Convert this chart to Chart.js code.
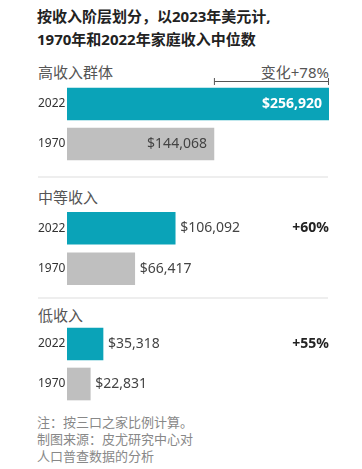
<!DOCTYPE html>
<html>
<head>
<meta charset="utf-8">
<script src="https://cdn.jsdelivr.net/npm/chart.js@4.4.1/dist/chart.umd.min.js"></script>
<style>
  body { margin: 0; background: #fff; font-family: "Noto Sans", "Noto Sans CJK SC", sans-serif; }
  #wrap { position: relative; width: 362px; height: 469px; overflow: hidden; }
  .t { position: absolute; white-space: nowrap; }
  .title { left: 37px; top: 5px; font-size: 15px; font-weight: bold; color: #222; line-height: 23px; }
  .grp { left: 38px; font-size: 15px; color: #555; line-height: 20px; }
  .chg { right: 33px; font-size: 15px; color: #555; line-height: 20px; }
  .sep { position: absolute; left: 38px; width: 290px; height: 2px; background: #eee; }
  .note { left: 37px; top: 414px; font-size: 13px; color: #888; line-height: 17px; }
  canvas { position: absolute; left: 0; }
</style>
</head>
<body>
<div id="wrap">
  <div class="t title">按收入阶层划分，以2023年美元计,<br>1970年和2022年家庭收入中位数</div>

  <div class="t grp" style="top:62px">高收入群体</div>
  <div class="t chg" style="top:62px">变化+78%</div>
  <div class="sep" style="top:176px"></div>

  <div class="t grp" style="top:187px">中等收入</div>
  <div class="sep" style="top:297px"></div>

  <div class="t grp" style="top:305px">低收入</div>

  <div class="t note">注：按三口之家比例计算。<br>制图来源：皮尤研究中心对<br>人口普查数据的分析</div>

  <canvas id="c0" style="top:74px" width="362" height="90"></canvas>
  <canvas id="c1" style="top:208px" width="362" height="81"></canvas>
  <canvas id="c2" style="top:324px" width="362" height="80"></canvas>
</div>

<script>
const groups = ['高收入群体', '中等收入', '低收入'];
const years = ['2022', '1970'];
const values2022 = [256920, 106092, 35318];
const values1970 = [144068, 66417, 22831];
const changes = ['+78%', '+60%', '+55%'];

const TEAL = '#0aa3b8';
const GRAY = '#bfbfbf';
const FONT = '"Noto Sans", "Noto Sans CJK SC", sans-serif';

function money(v) {
  return '$' + v.toLocaleString('en-US');
}

// year labels, value labels, change text and bracket
const labelsPlugin = {
  id: 'labels',
  afterDatasetsDraw(chart, args, opts) {
    const ctx = chart.ctx;
    const meta = chart.getDatasetMeta(0);
    const area = chart.chartArea;
    const vals = chart.data.datasets[0].data;
    ctx.save();
    ctx.textBaseline = 'middle';
    meta.data.forEach((bar, i) => {
      ctx.font = '12px ' + FONT;
      ctx.fillStyle = '#333';
      ctx.textAlign = 'left';
      ctx.fillText(years[i], 38, bar.y);

      const text = money(vals[i]);
      const inside = (bar.x - bar.base) > 120;
      if (inside) {
        ctx.textAlign = 'right';
        if (i === 0) {
          ctx.font = 'bold 14px ' + FONT;
          ctx.fillStyle = '#fff';
        } else {
          ctx.font = '14px ' + FONT;
          ctx.fillStyle = '#444';
        }
        ctx.fillText(text, bar.x - 7, bar.y);
      } else {
        ctx.textAlign = 'left';
        ctx.font = '14px ' + FONT;
        ctx.fillStyle = '#444';
        ctx.fillText(text, bar.x + 5, bar.y);
      }
    });

    if (opts.bracket) {
      // bracket from the 1970 value to the 2022 value
      const x1 = chart.scales.x.getPixelForValue(vals[1]);
      const x2 = chart.scales.x.getPixelForValue(vals[0]);
      const y = 7.5;
      ctx.strokeStyle = '#555';
      ctx.lineWidth = 1;
      ctx.beginPath();
      ctx.moveTo(x1 + 0.5, y);
      ctx.lineTo(x2 - 0.5, y);
      ctx.moveTo(x1 + 0.5, y - 3.5);
      ctx.lineTo(x1 + 0.5, y + 3.5);
      ctx.moveTo(x2 - 0.5, y - 3.5);
      ctx.lineTo(x2 - 0.5, y + 3.5);
      ctx.stroke();
    } else {
      ctx.font = 'bold 14px ' + FONT;
      ctx.fillStyle = '#222';
      ctx.textAlign = 'right';
      ctx.fillText(opts.change, area.right, meta.data[0].y);
    }
    ctx.restore();
  }
};

function makeChart(id, g) {
  const topPad = g === 0 ? 10 : 0;
  return new Chart(document.getElementById(id), {
    type: 'bar',
    data: {
      labels: years,
      datasets: [{
        data: [values2022[g], values1970[g]],
        backgroundColor: [TEAL, GRAY],
        barThickness: 32,
        borderWidth: 0
      }]
    },
    options: {
      indexAxis: 'y',
      responsive: false,
      animation: false,
      layout: { padding: { left: 67, right: 33, top: topPad, bottom: 0 } },
      scales: {
        x: { display: false, min: 0, max: values2022[0] },
        y: { display: false }
      },
      plugins: {
        legend: { display: false },
        tooltip: { enabled: false },
        labels: { bracket: g === 0, change: changes[g] }
      }
    },
    plugins: [labelsPlugin]
  });
}

makeChart('c0', 0);
makeChart('c1', 1);
makeChart('c2', 2);
</script>
</body>
</html>
